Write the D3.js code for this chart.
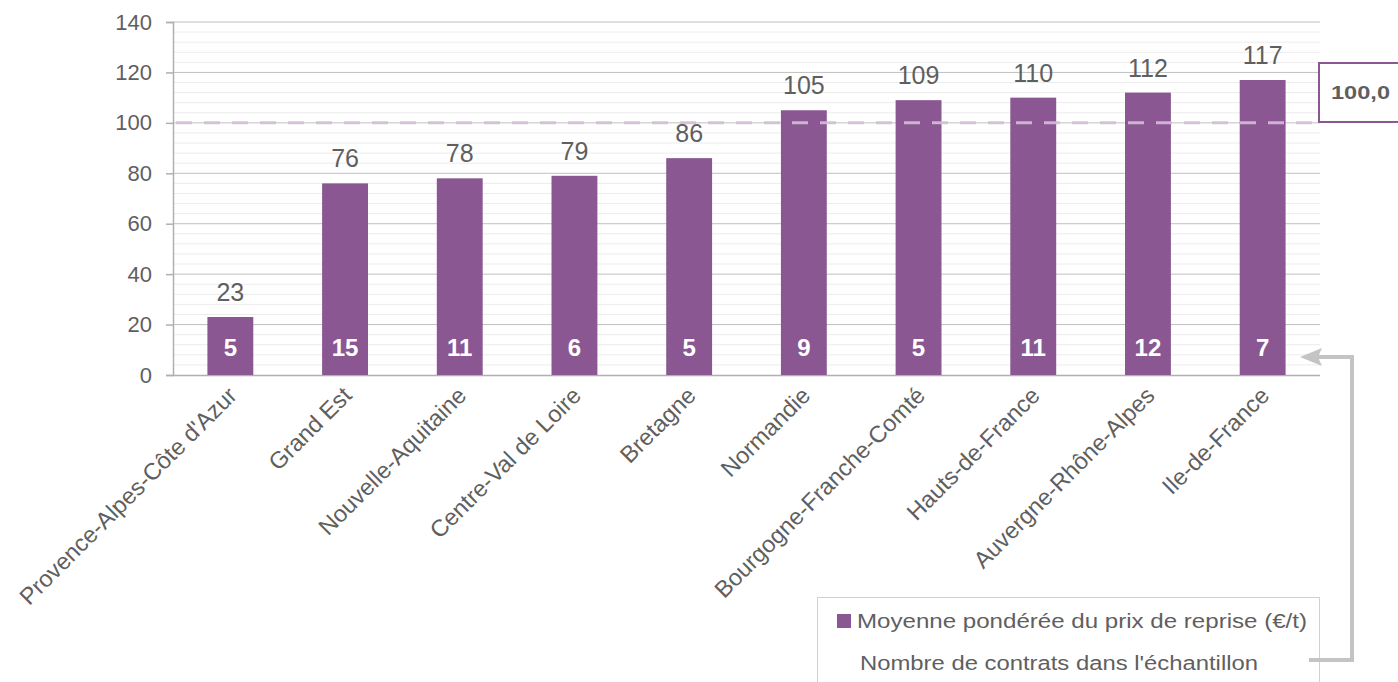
<!DOCTYPE html>
<html><head><meta charset="utf-8">
<script src="https://cdn.jsdelivr.net/npm/d3@7/dist/d3.min.js"></script>
<style>body{margin:0;background:#fff;}svg{display:block;font-family:Arial,"Liberation Sans",sans-serif;}</style>
</head><body><svg id="c" width="1398" height="682"></svg>
<script>
const categories = ["Provence-Alpes-Côte d'Azur","Grand Est","Nouvelle-Aquitaine","Centre-Val de Loire","Bretagne","Normandie","Bourgogne-Franche-Comté","Hauts-de-France","Auvergne-Rhône-Alpes","Ile-de-France"];
const prices = [23,76,78,79,86,105,109,110,112,117];
const contracts = [5,15,11,6,5,9,5,11,12,7];
const yTicks = [0,20,40,60,80,100,120,140];
const referenceValue = 100;
const referenceLabel = "100,0";
const legendLabels = ["Moyenne pondérée du prix de reprise (€/t)","Nombre de contrats dans l'échantillon"];

const svg = d3.select("#c");
const L=173,R=1320,T=22,B=375;
const x = d3.scaleBand().domain(categories).range([L,R]).paddingInner(0.6).paddingOuter(0.3);
const y = d3.scaleLinear().domain([0,140]).range([B,T]);
const purple="#8A5792", txt="#5f5f5f";
const FF="Arial,'Liberation Sans',sans-serif";

// minor gridlines
const minor = d3.range(0,141,4).filter(v=>v%20!==0);
svg.append("g").selectAll("line").data(minor).join("line")
 .attr("x1",L+1).attr("x2",R).attr("y1",d=>y(d)).attr("y2",d=>y(d))
 .attr("stroke","#ececec").attr("stroke-width",1);
// major gridlines
svg.append("g").selectAll("line").data(yTicks.filter(d=>d>0)).join("line")
 .attr("x1",L).attr("x2",R).attr("y1",d=>y(d)).attr("y2",d=>y(d))
 .attr("stroke","#c0c0c0").attr("stroke-width",1);

// y axis
const ya = svg.append("g").attr("transform",`translate(${L},0)`)
 .call(d3.axisLeft(y).tickValues(yTicks).tickSize(7).tickPadding(14));
ya.select(".domain").attr("stroke","#b0b0b0").attr("stroke-width",1.5);
ya.selectAll(".tick line").attr("stroke","#b0b0b0").attr("stroke-width",1.5);
ya.selectAll(".tick text").attr("fill",txt).attr("font-size","22px").attr("font-family",FF);

// x axis
const xa = svg.append("g").attr("transform",`translate(0,${B})`)
 .call(d3.axisBottom(x).tickSize(0).tickPadding(0));
xa.select(".domain").attr("stroke","#b0b0b0").attr("stroke-width",1.5).attr("d",`M${L},0.5H${R}`);
xa.selectAll(".tick text").attr("fill",txt).attr("font-size","23.5px")
 .attr("font-family",FF)
 .attr("text-anchor","end").attr("dy",null).attr("y",0)
 .attr("transform","translate(8,22) rotate(-45)");

// bars
svg.append("g").selectAll("rect").data(categories).join("rect")
 .attr("x",d=>x(d)).attr("width",x.bandwidth())
 .attr("y",(d,i)=>y(prices[i])).attr("height",(d,i)=>y(0)-y(prices[i]))
 .attr("fill",purple);

// reference dashed line
svg.append("line").attr("x1",L+3).attr("x2",R).attr("y1",y(referenceValue)).attr("y2",y(referenceValue))
 .attr("stroke","#d4bfd9").attr("stroke-width",3).attr("stroke-dasharray","16,12").attr("opacity",0.9);

// value labels
svg.append("g").selectAll("text").data(categories).join("text")
 .attr("x",d=>x(d)+x.bandwidth()/2).attr("y",(d,i)=>y(prices[i])-16)
 .attr("text-anchor","middle").attr("fill",txt).attr("font-size","25px").text((d,i)=>prices[i]);
// count labels
svg.append("g").selectAll("text").data(categories).join("text")
 .attr("x",d=>x(d)+x.bandwidth()/2).attr("y",y(0)-19)
 .attr("text-anchor","middle").attr("fill","#fff").attr("font-weight","bold").attr("font-size","24px").text((d,i)=>contracts[i]);

// reference box
svg.append("rect").attr("x",1319).attr("y",63).attr("width",90).attr("height",59)
 .attr("fill","#fff").attr("stroke",purple).attr("stroke-width",2);
svg.append("text").attr("x",1331).attr("y",99).attr("fill",txt).attr("font-weight","bold").attr("font-size","19px")
 .attr("textLength",59).attr("lengthAdjust","spacingAndGlyphs").text(referenceLabel);

// legend
svg.append("rect").attr("x",817.5).attr("y",597.5).attr("width",502).attr("height",100)
 .attr("fill","#fff").attr("stroke","#d0d0d0").attr("stroke-width",1);
svg.append("rect").attr("x",837).attr("y",614).attr("width",14).attr("height",14).attr("fill",purple);
svg.append("text").attr("x",857).attr("y",628).attr("fill",txt).attr("font-size","20px")
 .attr("textLength",450).attr("lengthAdjust","spacingAndGlyphs").text(legendLabels[0]);
svg.append("text").attr("x",860).attr("y",670).attr("fill",txt).attr("font-size","20px")
 .attr("textLength",398).attr("lengthAdjust","spacingAndGlyphs").text(legendLabels[1]);

// connector arrow
svg.append("path").attr("d","M1309,660H1352V357H1318").attr("fill","none").attr("stroke","#c4c4c4").attr("stroke-width",4);
svg.append("path").attr("d","M1300,357L1322,348L1318,357L1322,366Z").attr("fill","#c4c4c4");
</script></body></html>
